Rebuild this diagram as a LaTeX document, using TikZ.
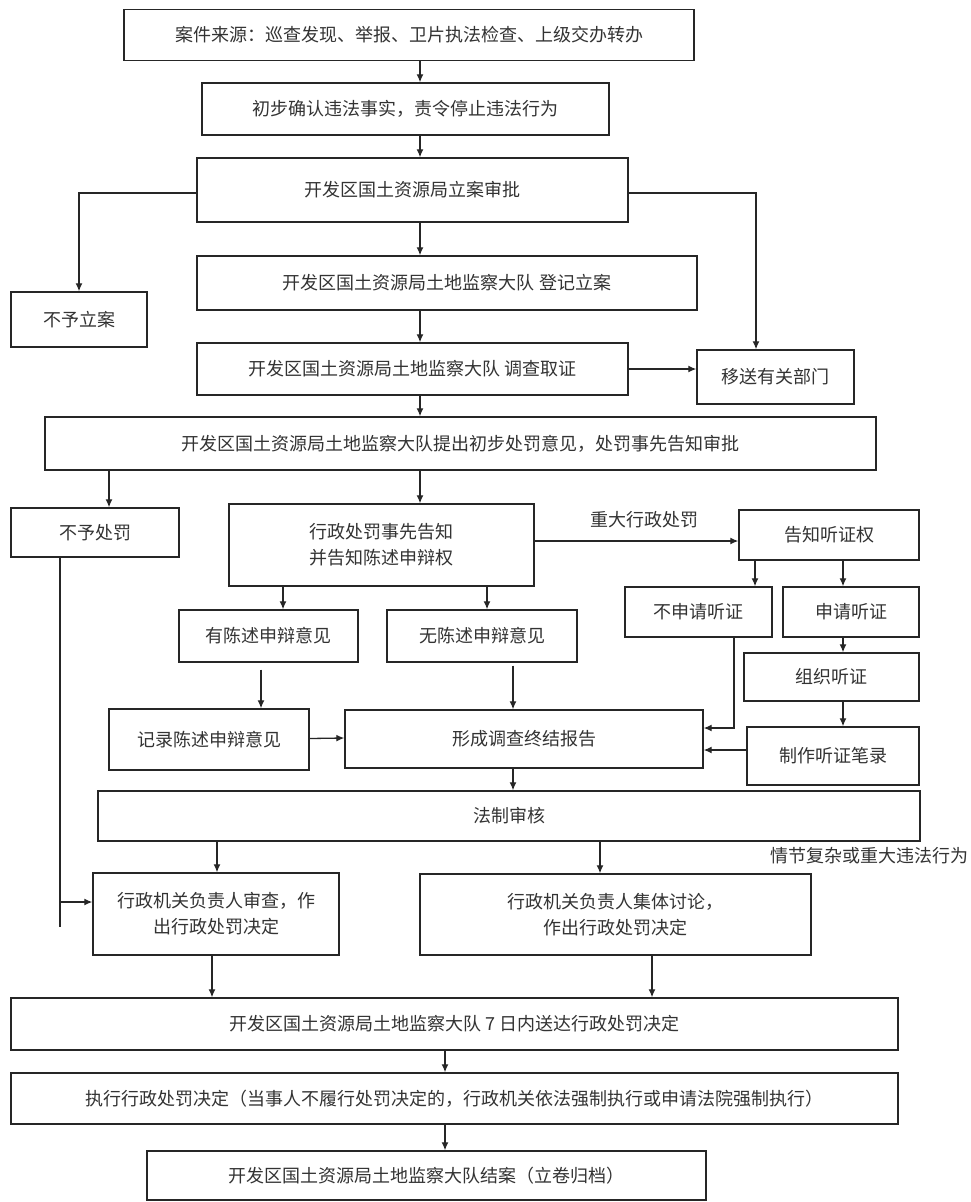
\documentclass[tikz,border=0pt]{standalone}
\usepackage{fontspec}
\setmainfont{Noto Sans CJK SC}
\usetikzlibrary{arrows.meta,calc}
\begin{document}
\begin{tikzpicture}[x=1pt,y=-1pt,
  box/.style={draw=black!85,line width=1.4pt,fill=white,rectangle,align=center,inner sep=2pt,
    text=black!80,font=\fontsize{18}{26}\selectfont},
  arr/.style={draw=black!85,line width=1.3pt,-{Latex[length=8pt,width=7pt]}},
  ln/.style={draw=black!85,line width=1.3pt},
  lbl/.style={text=black!80,font=\fontsize{18}{24}\selectfont,inner sep=0pt}]
\useasboundingbox[fill=white] (0,0) rectangle (971,1202);

\node[box,minimum width=570,minimum height=51] (b1) at (409,35) {案件来源：巡查发现、举报、卫片执法检查、上级交办转办};
\node[box,minimum width=407,minimum height=52] (b2) at (405.5,109) {初步确认违法事实，责令停止违法行为};
\node[box,minimum width=431,minimum height=64] (b3) at (412.5,190) {开发区国土资源局立案审批};
\node[box,minimum width=500,minimum height=54] (b4) at (447,283) {开发区国土资源局土地监察大队 登记立案};
\node[box,minimum width=136,minimum height=55] (buli) at (79,319.5) {不予立案};
\node[box,minimum width=431,minimum height=52] (b5) at (412.5,369) {开发区国土资源局土地监察大队 调查取证};
\node[box,minimum width=157,minimum height=54] (yisong) at (775.5,377) {移送有关部门};
\node[box,minimum width=831,minimum height=53] (b6) at (460.5,443.5) {开发区国土资源局土地监察大队提出初步处罚意见，处罚事先告知审批};
\node[box,minimum width=168,minimum height=49] (buchufa) at (95,532.5) {不予处罚};
\node[box,minimum width=305,minimum height=82] (gaozhi) at (381.5,545) {行政处罚事先告知\\并告知陈述申辩权};
\node[box,minimum width=180,minimum height=50] (tingzheng) at (829,535) {告知听证权};
\node[box,minimum width=147,minimum height=50] (bushen) at (698.5,612) {不申请听证};
\node[box,minimum width=136,minimum height=50] (shen) at (851,612) {申请听证};
\node[box,minimum width=179,minimum height=52] (you) at (268.5,636) {有陈述申辩意见};
\node[box,minimum width=190,minimum height=52] (wu) at (482,636) {无陈述申辩意见};
\node[box,minimum width=175,minimum height=48] (zuzhi) at (831.5,677) {组织听证};
\node[box,minimum width=200,minimum height=61] (jilu) at (209,739.5) {记录陈述申辩意见};
\node[box,minimum width=358,minimum height=58] (xingcheng) at (524,739) {形成调查终结报告};
\node[box,minimum width=172,minimum height=58] (zhizuo) at (833,756) {制作听证笔录};
\node[box,minimum width=822,minimum height=50] (fazhi) at (509,816) {法制审核};
\node[box,minimum width=246,minimum height=82] (shencha) at (216,914) {行政机关负责人审查，作\\出行政处罚决定};
\node[box,minimum width=391,minimum height=81] (jiti) at (615.5,914.5) {行政机关负责人集体讨论，\\作出行政处罚决定};
\node[box,minimum width=887,minimum height=52] (qiri) at (454.5,1024) {开发区国土资源局土地监察大队 7 日内送达行政处罚决定};
\node[box,minimum width=887,minimum height=51] (zhixing) at (454.5,1098.5) {执行行政处罚决定（当事人不履行处罚决定的，行政机关依法强制执行或申请法院强制执行）};
\node[box,minimum width=559,minimum height=49] (jiean) at (426.5,1175.5) {开发区国土资源局土地监察大队结案（立卷归档）};

\node[lbl] (zhongda) at (644,520) {重大行政处罚};
\node[lbl,anchor=east] (qingjie) at (969,856) {情节复杂或重大违法行为};

\coordinate (mx) at (420,0);
\coordinate (ys) at (756,0);
\coordinate (bx) at (109,0);
\coordinate (tl) at (755,0);
\coordinate (tr) at (843,0);
\coordinate (gl) at (283,0);
\coordinate (gr) at (487,0);
\coordinate (yl) at (261,0);
\coordinate (wr) at (513,0);
\coordinate (nl) at (734,0);
\coordinate (fl) at (217,0);
\coordinate (fr) at (600,0);
\coordinate (sl) at (212,0);
\coordinate (sr) at (652,0);
\coordinate (ex) at (445,0);
\coordinate (bend) at (60,927);

\draw[arr] (b1.south -| mx) -- (b2.north -| mx);
\draw[arr] (b2.south -| mx) -- (b3.north -| mx);
\draw[arr] (b3.south -| mx) -- (b4.north -| mx);
\draw[arr] (b4.south -| mx) -- (b5.north -| mx);
\draw[arr] (b5.south -| mx) -- (b6.north -| mx);
\draw[arr] (b6.south -| mx) -- (gaozhi.north -| mx);
\draw[arr] ($(b3.west)+(0,3)$) -| (buli.north);
\draw[arr] ($(b3.east)+(0,3)$) -| (ys |- yisong.north);
\draw[arr] (b5.east) -- (b5.east -| yisong.west);
\draw[arr] (b6.south -| bx) -- (buchufa.north -| bx);
\draw[arr] ($(gaozhi.east)+(0,-4)$) -- ($(gaozhi.east -| tingzheng.west)+(0,-4)$);
\draw[arr] (tingzheng.south -| tl) -- (bushen.north -| tl);
\draw[arr] (tingzheng.south -| tr) -- (shen.north -| tr);
\draw[arr] (shen.south -| tr) -- (zuzhi.north -| tr);
\draw[arr] (zuzhi.south -| tr) -- (zhizuo.north -| tr);
\draw[arr] (gaozhi.south -| gl) -- (you.north -| gl);
\draw[arr] (gaozhi.south -| gr) -- (wu.north -| gr);
\draw[arr] ($(you.south -| yl)+(0,7)$) -- (jilu.north -| yl);
\draw[arr] ($(wu.south -| wr)+(0,3)$) -- (xingcheng.north -| wr);
\draw[arr] ($(jilu.east)+(0,-1)$) -- ($(xingcheng.west)+(0,-1)$);
\draw[arr] (bushen.south -| nl) |- ($(xingcheng.east)+(0,-11)$);
\draw[arr] ($(zhizuo.west)+(0,-6)$) -- ($(xingcheng.east)+(0,11)$);
\draw[arr] (xingcheng.south -| wr) -- (fazhi.north -| wr);
\draw[arr] (fazhi.south -| fl) -- (shencha.north -| fl);
\draw[arr] (fazhi.south -| fr) -- (jiti.north -| fr);
\draw[ln] (buchufa.south -| bend) -- (bend);
\draw[arr] (bend |- shencha.west) ++(0,-12) -- ($(shencha.west)+(0,-12)$);
\draw[arr] (shencha.south -| sl) -- (qiri.north -| sl);
\draw[arr] (jiti.south -| sr) -- (qiri.north -| sr);
\draw[arr] (qiri.south -| ex) -- (zhixing.north -| ex);
\draw[arr] (zhixing.south -| ex) -- (jiean.north -| ex);
\end{tikzpicture}
\end{document}
